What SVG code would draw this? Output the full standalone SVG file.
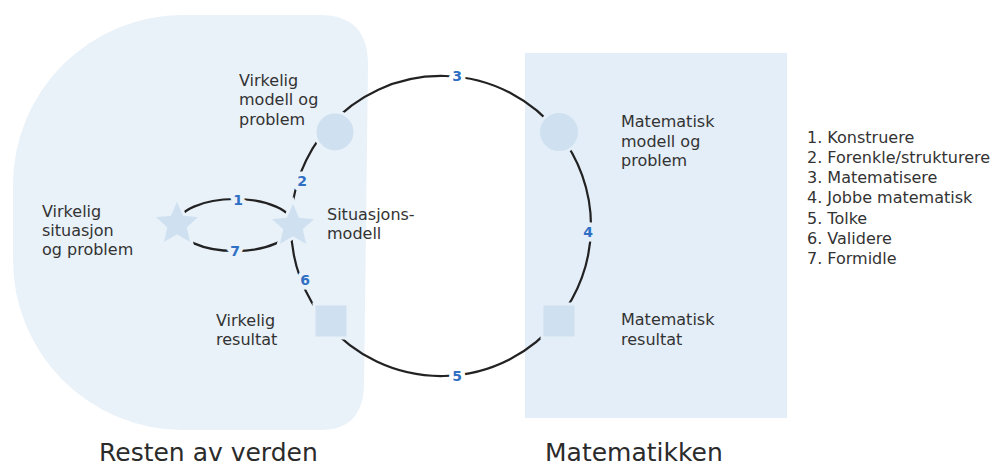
<svg xmlns="http://www.w3.org/2000/svg" xmlns:xlink="http://www.w3.org/1999/xlink" width="998" height="468" viewBox="0 0 998 468">
  <style>
    .txt { font-family: "DejaVu Sans", Verdana, sans-serif; font-size: 16px; fill: #333333; }
    .title { font-family: "DejaVu Sans", Verdana, sans-serif; font-size: 25px; fill: #2b2b2b; }
    .edge { fill: none; stroke: #222222; stroke-width: 2.2; }
    .num { font-family: "DejaVu Sans", Verdana, sans-serif; font-size: 14px; font-weight: bold; fill: #2f6fc4; text-anchor: middle; paint-order: stroke; stroke-width: 9; stroke-linejoin: round; }
    .on-world { stroke: #e9f1f9; }
    .on-math { stroke: #e4eef8; }
    .on-white { stroke: #ffffff; }
    .shape { fill: #cfe1f0; stroke-width: 3; }
  </style>
  <defs>
    <path id="star" d="M0,-26 L7.05,-9.7 L24.73,-8.03 L11.41,3.71 L15.28,21.03 L0,12 L-15.28,21.03 L-11.41,3.71 L-24.73,-8.03 L-7.05,-9.7 Z"/>
  </defs>

  <rect width="998" height="468" fill="#ffffff"/>

  <!-- regions -->
  <g id="world">
    <path d="M183,15 L320,15 Q368,15 368,65 L364,385 Q363,430 320,430 L183,430 A170,170 0 0 1 13,260 L13,185 A170,170 0 0 1 183,15 Z" fill="#e9f1f9"/>
    <text class="title" x="99" y="461">Resten av verden</text>
  </g>
  <g id="math">
    <rect x="525" y="53" width="262" height="365" fill="#e4eef8"/>
    <text class="title" x="545" y="461">Matematikken</text>
  </g>

  <!-- connectors -->
  <g id="connectors">
    <path class="edge" d="M177,225 A58,26 0 0 1 293,225"/>
    <path class="edge" d="M293,225 A58,26 0 0 1 177,225"/>
    <path class="edge" d="M291,226 A150,150 0 0 1 328.8,126.4"/>
    <path class="edge" d="M328.8,126.4 A150,150 0 0 1 558.4,132.6"/>
    <path class="edge" d="M558.4,132.6 A150,150 0 0 1 557.9,320"/>
    <path class="edge" d="M557.9,320 A150,150 0 0 1 327.4,324"/>
    <path class="edge" d="M327.4,324 A150,150 0 0 1 291,226"/>
    <text class="num on-world" x="238" y="205">1</text>
    <text class="num on-world" x="302" y="186">2</text>
    <text class="num on-white" x="457" y="81">3</text>
    <text class="num on-math" x="588" y="237">4</text>
    <text class="num on-white" x="457" y="381">5</text>
    <text class="num on-world" x="305" y="285">6</text>
    <text class="num on-world" x="235" y="256">7</text>
  </g>

  <!-- nodes -->
  <g id="real-situation">
    <use xlink:href="#star" href="#star" x="177" y="224" class="shape" stroke="#e9f1f9"/>
    <text class="txt" x="42" y="217">Virkelig</text>
    <text class="txt" x="42" y="236">situasjon</text>
    <text class="txt" x="42" y="255">og problem</text>
  </g>
  <g id="situation-model">
    <use xlink:href="#star" href="#star" x="293" y="226" class="shape" stroke="#e9f1f9"/>
    <text class="txt" x="327" y="220">Situasjons-</text>
    <text class="txt" x="327" y="239">modell</text>
  </g>
  <g id="real-model">
    <circle cx="335" cy="132" r="20" class="shape" stroke="#e9f1f9"/>
    <text class="txt" x="239" y="86">Virkelig</text>
    <text class="txt" x="239" y="105">modell og</text>
    <text class="txt" x="239" y="125">problem</text>
  </g>
  <g id="math-model">
    <circle cx="559" cy="132" r="20.5" class="shape" stroke="#e4eef8"/>
    <text class="txt" x="621" y="127">Matematisk</text>
    <text class="txt" x="621" y="147">modell og</text>
    <text class="txt" x="621" y="166">problem</text>
  </g>
  <g id="math-result">
    <rect x="542" y="304" width="34" height="34" class="shape" stroke="#e4eef8"/>
    <text class="txt" x="621" y="325">Matematisk</text>
    <text class="txt" x="621" y="345">resultat</text>
  </g>
  <g id="real-result">
    <rect x="314" y="304" width="34" height="34" class="shape" stroke="#e9f1f9"/>
    <text class="txt" x="216" y="326">Virkelig</text>
    <text class="txt" x="216" y="345">resultat</text>
  </g>

  <!-- legend -->
  <g id="legend">
    <text class="txt" x="807" y="143">1. Konstruere</text>
    <text class="txt" x="807" y="163">2. Forenkle/strukturere</text>
    <text class="txt" x="807" y="183">3. Matematisere</text>
    <text class="txt" x="807" y="203">4. Jobbe matematisk</text>
    <text class="txt" x="807" y="224">5. Tolke</text>
    <text class="txt" x="807" y="244">6. Validere</text>
    <text class="txt" x="807" y="264">7. Formidle</text>
  </g>
</svg>
